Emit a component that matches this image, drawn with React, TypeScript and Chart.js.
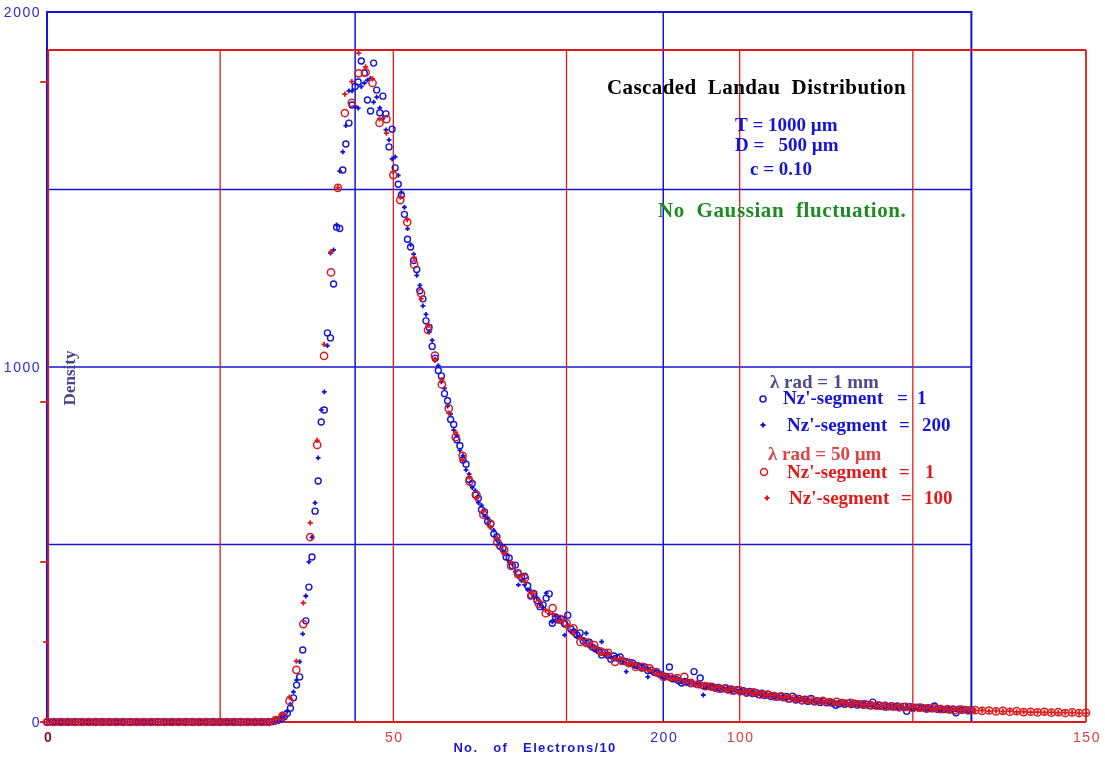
import React, { useEffect, useRef } from "react";
import { Chart, registerables } from "chart.js";

Chart.register(...registerables);

// ---------- DATA ----------
// Blue series ("λ rad = 1 mm"), x = No. of electrons/10 on the blue scale (0..300, step 1)
const blueCircleNz1: number[] = [
  0,0,0,0,0,0,0,0,0,0,0,0,0,0,0,0,0,0,0,0,0,0,0,0,0,0,0,0,0,0,0,0,0,0,0,0,0,0,0,0,
  0,0,0,0,0,0,0,0,0,0,0,0,0,0,0,0,0,0,0,0,0,0,0,0,0,0,0,0,0,0,0,0,0,
  1,3,5,9,15,25,39,68,104,127,
  203,285,380,465,594,679,845,879,1096,1082,
  1234,1394,1390,1555,1628,1687,1738,1790,1803,1862,
  1828,1752,1721,1856,1780,1716,1763,1713,1620,1670,
  1561,1515,1484,1430,1360,1338,1300,1275,1215,1192,
  1130,1112,1058,1025,990,975,925,905,852,838,
  795,778,738,726,683,672,640,630,598,592,
  565,558,530,522,495,490,465,462,440,442,
  420,408,411,384,355,362,342,325,330,349,
  361,278,296,287,290,276,301,262,254,245,
  251,229,222,225,211,206,201,189,196,188,
  177,186,180,183,172,170,168,166,160,158,
  152,155,145,146,140,138,134,130,128,155,
  122,121,116,110,114,111,108,142,106,124,
  102,100,101,98,95,97,93,96,90,93,
  88,91,85,88,83,86,80,83,77,81,
  75,78,72,75,70,73,68,72,65,73,
  62,66,60,64,58,66,57,60,55,59,
  54,57,53,47,51,55,50,54,49,53,
  48,51,47,50,46,56,45,48,44,47,
  43,46,42,45,41,44,30,43,40,42,
  39,41,38,40,37,45,36,38,35,37,
  34,37,26,36,33,35,33,34,
];

const bluePlusNz200: number[] = [
  0,0,0,0,0,0,0,0,0,0,0,0,0,0,0,0,0,0,0,0,0,0,0,0,0,0,0,0,0,0,0,0,0,0,0,0,0,0,0,0,
  0,0,0,0,0,0,0,0,0,0,0,0,0,0,0,0,0,0,0,0,0,0,0,0,0,0,0,0,0,0,0,0,0,
  1,2,6,10,18,30,50,85,118,170,
  248,355,451,520,617,744,879,930,1060,1321,
  1330,1400,1552,1606,1680,1778,1778,1735,1729,1790,
  1800,1808,1813,1746,1760,1730,1700,1668,1640,1586,
  1592,1540,1492,1450,1390,1345,1318,1258,1230,1172,
  1148,1098,1075,1022,1004,958,940,890,868,822,
  808,765,750,710,698,660,652,618,610,580,
  575,548,540,512,505,480,474,450,446,424,
  386,398,386,372,370,352,350,332,322,363,
  305,282,298,288,280,245,272,255,258,240,
  240,232,250,214,212,203,204,226,192,190,
  183,182,178,176,170,142,165,162,157,160,
  150,152,127,142,143,135,136,129,131,124,
  125,118,119,113,116,109,112,105,108,102,
  76,99,102,96,99,94,96,92,94,89,
  92,86,89,84,87,81,84,78,81,77,
  79,74,77,71,74,69,72,66,69,63,
  66,61,64,59,62,58,60,56,58,55,
  57,53,56,52,54,50,53,49,52,48,
  50,47,49,45,48,44,47,43,46,42,
  45,41,44,40,43,39,42,38,41,38,
  40,37,39,36,38,35,37,34,37,33,
  36,33,35,32,35,32,34,33,
];

// Red series ("λ rad = 50 µm"), x on the red scale (0..150, step 1)
const redCircleNz1: number[] = [
  0,0,0,0,0,0,0,0,0,0,0,0,0,0,0,0,0,0,0,0,0,0,0,0,0,0,0,0,0,0,0,0,0,
  6,19,66,163,306,578,866,
  1144,1405,1669,1903,1935,2027,2030,1997,1872,1884,
  1709,1631,1562,1430,1340,1225,1145,1055,980,890,
  832,752,710,648,620,562,538,488,462,450,
  398,370,340,356,322,309,293,250,248,240,
  220,216,188,191,184,172,172,168,156,141,
  140,137,141,122,118,112,110,104,105,98,
  99,92,93,86,86,80,80,74,74,68,
  69,65,66,62,63,58,60,55,56,52,
  51,48,49,46,47,44,45,42,43,40,
  40,37,39,36,37,35,36,33,35,32,
  34,31,32,30,32,29,31,28,30,28,
  29,
];

const redPlusNz100: number[] = [
  0,0,0,0,0,0,0,0,0,0,0,0,0,0,0,0,0,0,0,0,0,0,0,0,0,0,0,0,0,0,0,0,0,
  8,25,78,190,372,622,880,
  1180,1470,1670,1962,2001,2090,2047,2010,1885,1840,
  1720,1640,1570,1452,1322,1240,1130,1070,965,905,
  818,765,698,660,608,575,525,500,455,438,
  402,380,348,338,315,300,275,262,240,234,
  215,212,198,196,182,180,166,162,150,147,
  136,134,124,124,115,115,108,108,102,101,
  96,95,90,89,84,83,78,77,72,71,
  67,67,64,64,60,60,57,57,54,54,
  50,50,47,48,45,46,43,44,41,42,
  39,39,37,38,36,36,34,35,33,34,
  32,32,31,31,30,30,29,29,29,28,
  28,
];

// Axis / grid values
const blueXGrid = [100, 200];
const blueYGrid = [500, 1000, 1500];
const blueXFrame = [0, 300];
const blueYFrame = [0, 2000];
const blueXTickLabels = [200];
const blueYTickLabels = [2000, 1000, 0];
const redXGrid = [25, 50, 75, 100, 125];
const redXFrame = [0, 150];
const redYFrame = [0, 2100];
const redYMajorTicks = [2000, 1000, 500];
const redYMinorTicks = [250];
const redXTickLabels = [50, 100, 150];

const BLUE = "#1414d6";
const RED = "#e01a1a";
const SERIF = "'Liberation Serif', 'Times New Roman', serif";
const SANS = "'Liberation Sans', Arial, sans-serif";

function text(
  ctx: CanvasRenderingContext2D,
  s: string,
  x: number,
  y: number,
  font: string,
  color: string,
  align: CanvasTextAlign = "left",
  spacing = "0px"
) {
  ctx.font = font;
  ctx.fillStyle = color;
  ctx.textAlign = align;
  ctx.textBaseline = "alphabetic";
  (ctx as any).letterSpacing = spacing;
  ctx.fillText(s, x, y);
  (ctx as any).letterSpacing = "0px";
}

function line(ctx: CanvasRenderingContext2D, x1: number, y1: number, x2: number, y2: number) {
  ctx.beginPath();
  ctx.moveTo(x1, y1);
  ctx.lineTo(x2, y2);
  ctx.stroke();
}

const framePlugin = {
  id: "frames",
  beforeDatasetsDraw(chart: any) {
    const { ctx, scales } = chart;
    const xb = scales.xBlue, yb = scales.yBlue, xr = scales.xRed, yr = scales.yRed;
    ctx.save();
    // blue grid
    ctx.strokeStyle = BLUE;
    ctx.lineWidth = 1.5;
    for (const v of blueXGrid) {
      const px = xb.getPixelForValue(v);
      line(ctx, px, yb.getPixelForValue(blueYFrame[0]), px, yb.getPixelForValue(blueYFrame[1]));
    }
    for (const v of blueYGrid) {
      const py = yb.getPixelForValue(v);
      line(ctx, xb.getPixelForValue(blueXFrame[0]), py, xb.getPixelForValue(blueXFrame[1]), py);
    }
    // blue frame
    ctx.lineWidth = 2;
    const bl = xb.getPixelForValue(blueXFrame[0]);
    const br = xb.getPixelForValue(blueXFrame[1]);
    const bt = yb.getPixelForValue(blueYFrame[1]);
    const bb = yb.getPixelForValue(blueYFrame[0]);
    ctx.strokeRect(bl, bt, br - bl, bb - bt);

    // red grid
    ctx.strokeStyle = RED;
    ctx.lineWidth = 1.3;
    for (const v of redXGrid) {
      const px = xr.getPixelForValue(v);
      line(ctx, px, yr.getPixelForValue(redYFrame[0]), px, yr.getPixelForValue(redYFrame[1]));
    }
    // red frame
    ctx.lineWidth = 1.8;
    const rl = xr.getPixelForValue(redXFrame[0]) + 1.2;
    const rr = xr.getPixelForValue(redXFrame[1]);
    const rt = yr.getPixelForValue(redYFrame[1]);
    const rb = yr.getPixelForValue(redYFrame[0]);
    line(ctx, rl, rb, rl, rt);
    line(ctx, rl, rt, rr, rt);
    line(ctx, rr, rt, rr, rb);
    line(ctx, rl - 8, rb, rr, rb);
    // red left ticks
    for (const v of redYMajorTicks) {
      const py = yr.getPixelForValue(v);
      line(ctx, rl - 8, py, rl, py);
    }
    for (const v of redYMinorTicks) {
      const py = yr.getPixelForValue(v);
      line(ctx, rl - 5, py, rl, py);
    }
    ctx.restore();
  },
  afterDatasetsDraw(chart: any) {
    const { ctx, scales } = chart;
    const xb = scales.xBlue, yb = scales.yBlue, xr = scales.xRed;
    ctx.save();
    // tick labels
    const tickFont = `14px ${SANS}`;
    for (const v of blueYTickLabels) {
      const py = yb.getPixelForValue(v);
      text(ctx, String(v), 41, py + 5, tickFont, "#2a2ad2", "right", "1.5px");
    }
    for (const v of blueXTickLabels) {
      text(ctx, String(v), xb.getPixelForValue(v) + 1, 742, tickFont, "#2a2ad2", "center", "1.5px");
    }
    for (const v of redXTickLabels) {
      text(ctx, String(v), xr.getPixelForValue(v) + 1, 742, tickFont, "#e23a3a", "center", "1.5px");
    }
    text(ctx, "0", xr.getPixelForValue(0) + 1, 742, `bold 14px ${SANS}`, "#8c0c3c", "center");

    // axis titles
    text(ctx, "No.   of   Electrons/10", 535, 752, `bold 13px ${SANS}`, "#1a1acb", "center", "1.35px");
    ctx.save();
    ctx.translate(75, 378);
    ctx.rotate(-Math.PI / 2);
    text(ctx, "Density", 0, 0, `bold 17px ${SERIF}`, "#45458c", "center");
    ctx.restore();

    // annotations
    text(ctx, "Cascaded  Landau  Distribution", 607, 94, `bold 21px ${SERIF}`, "#000000", "left", "0.4px");
    text(ctx, "T = 1000 µm", 735, 131, `bold 19px ${SERIF}`, BLUE);
    text(ctx, "D =   500 µm", 735, 151, `bold 19px ${SERIF}`, BLUE);
    text(ctx, "c = 0.10", 750, 175, `bold 19px ${SERIF}`, BLUE);
    text(ctx, "No  Gaussian  fluctuation.", 658, 217, `bold 21px ${SERIF}`, "#1f8a22", "left", "0.6px");

    // legend
    const lf = `bold 19px ${SERIF}`;
    text(ctx, "λ rad = 1 mm", 770, 388, lf, "#4b4b8e");
    text(ctx, "Nz'-segment", 783, 404, lf, BLUE);
    text(ctx, "=", 897, 404, lf, BLUE);
    text(ctx, "1", 917, 404, lf, BLUE);
    text(ctx, "Nz'-segment", 787, 431, lf, BLUE);
    text(ctx, "=", 899, 431, lf, BLUE);
    text(ctx, "200", 922, 431, lf, BLUE);
    text(ctx, "λ rad = 50 µm", 768, 460, lf, "#d94646");
    text(ctx, "Nz'-segment", 787, 478, lf, RED);
    text(ctx, "=", 899, 478, lf, RED);
    text(ctx, "1", 925, 478, lf, RED);
    text(ctx, "Nz'-segment", 789, 504, lf, RED);
    text(ctx, "=", 901, 504, lf, RED);
    text(ctx, "100", 924, 504, lf, RED);

    // legend markers
    ctx.lineWidth = 1.5;
    ctx.strokeStyle = BLUE;
    ctx.beginPath();
    ctx.arc(763, 399, 3, 0, Math.PI * 2);
    ctx.stroke();
    ctx.lineWidth = 2;
    line(ctx, 760.5, 425, 765.5, 425);
    line(ctx, 763, 422.5, 763, 427.5);
    ctx.strokeStyle = RED;
    ctx.lineWidth = 1.5;
    ctx.beginPath();
    ctx.arc(764, 472, 3.5, 0, Math.PI * 2);
    ctx.stroke();
    ctx.lineWidth = 2;
    line(ctx, 764.5, 498, 769.5, 498);
    line(ctx, 767, 495.5, 767, 500.5);
    ctx.restore();
  },
};

const toPoints = (arr: number[]) => arr.map((y, i) => ({ x: i, y }));

export default function App() {
  const canvasRef = useRef<HTMLCanvasElement | null>(null);

  useEffect(() => {
    const canvas = canvasRef.current;
    if (!canvas) return;
    const chart = new Chart(canvas, {
      type: "scatter",
      data: {
        datasets: [
          {
            label: "λ rad = 50 µm, Nz'-segment = 1",
            data: toPoints(redCircleNz1),
            xAxisID: "xRed",
            yAxisID: "yRed",
            pointStyle: "circle",
            pointRadius: 3.6,
            pointBorderWidth: 1.5,
            pointBorderColor: RED,
            pointBackgroundColor: "rgba(0,0,0,0)",
            clip: false,
          },
          {
            label: "λ rad = 50 µm, Nz'-segment = 100",
            data: toPoints(redPlusNz100),
            xAxisID: "xRed",
            yAxisID: "yRed",
            pointStyle: "cross",
            pointRadius: 2.6,
            pointBorderWidth: 1.8,
            pointBorderColor: RED,
            pointBackgroundColor: RED,
            clip: false,
          },
          {
            label: "λ rad = 1 mm, Nz'-segment = 1",
            data: toPoints(blueCircleNz1),
            xAxisID: "xBlue",
            yAxisID: "yBlue",
            pointStyle: "circle",
            pointRadius: 3,
            pointBorderWidth: 1.4,
            pointBorderColor: BLUE,
            pointBackgroundColor: "rgba(0,0,0,0)",
            clip: false,
          },
          {
            label: "λ rad = 1 mm, Nz'-segment = 200",
            data: toPoints(bluePlusNz200),
            xAxisID: "xBlue",
            yAxisID: "yBlue",
            pointStyle: "cross",
            pointRadius: 2.4,
            pointBorderWidth: 1.8,
            pointBorderColor: BLUE,
            pointBackgroundColor: BLUE,
            clip: false,
          },
        ],
      },
      options: {
        responsive: false,
        animation: false,
        events: [],
        layout: { padding: { left: 47, top: 12, right: 19, bottom: 35 } },
        plugins: {
          legend: { display: false },
          tooltip: { enabled: false },
          title: { display: false },
        },
        scales: {
          xBlue: { type: "linear", position: "bottom", min: 0, max: 337.2, display: false },
          yBlue: { type: "linear", position: "left", min: 0, max: 2000, display: false },
          xRed: { type: "linear", position: "bottom", min: 0, max: 150, display: false },
          yRed: { type: "linear", position: "left", min: 0, max: 2218.75, display: false },
        },
      },
      plugins: [framePlugin],
    });
    return () => chart.destroy();
  }, []);

  return (
    <div style={{ position: "absolute", left: 0, top: 0, width: 1105, height: 757, background: "#ffffff" }}>
      <canvas ref={canvasRef} width={1105} height={757} style={{ display: "block" }} />
    </div>
  );
}
